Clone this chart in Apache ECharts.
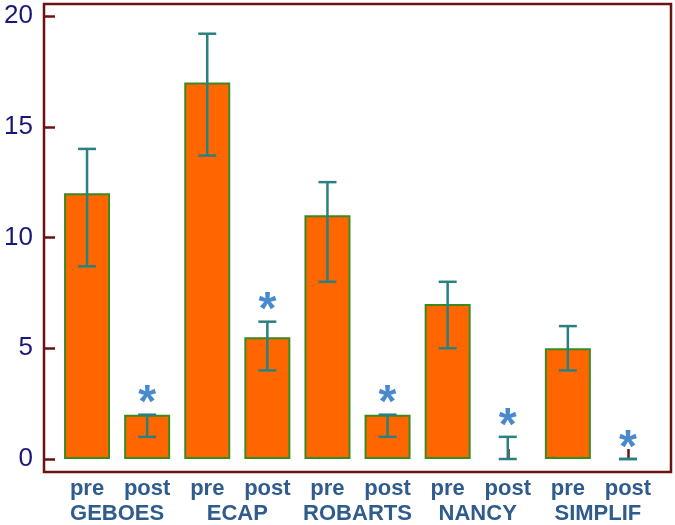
<!DOCTYPE html>
<html>
<head>
<meta charset="utf-8">
<script src="https://cdn.jsdelivr.net/npm/echarts@6/dist/echarts.min.js"></script>
<style>html,body{margin:0;padding:0;background:#fff}#c{width:675px;height:525px}</style>
</head>
<body>
<div id="c"></div>
<script>
const categories = ['pre','post','pre','post','pre','post','pre','post','pre','post'];
const groups = ['GEBOES','ECAP','ROBARTS','NANCY','SIMPLIF'];
const means = [12, 2, 17, 5.5, 11, 2, 7, 0, 5, 0];
const errLow = [8.7, 1, 13.7, 4, 8, 1, 5, 0, 4, 0];
const errHigh = [14, 2, 19.2, 6.2, 12.5, 2, 8, 1, 6, 0];
const significant = [false, true, false, true, false, true, false, true, false, true];
const yTicks = [0, 5, 10, 15, 20];

const FRAME = '#6B1212';
const FONT = 'Liberation Sans, Arial, sans-serif';
const chart = echarts.init(document.getElementById('c'), null, {renderer:'canvas'});
const barData = means.map(v => v === 0 ? {value:v, itemStyle:{borderWidth:0, color:'transparent'}} : v);
const errData = categories.map((c,i)=>[i, errLow[i], errHigh[i]]);
const starData = [];
significant.forEach((s,i)=>{ if(s) starData.push([i, errHigh[i]]); });

chart.setOption({
  animation:false,
  grid:[
    {left:57, right:17, top:16, bottom:65},
    {left:44, right:4, top:4, bottom:53, show:true, borderColor:FRAME, borderWidth:2.5, backgroundColor:'transparent', z:0}
  ],
  xAxis:[
    {type:'category', gridIndex:0, data:categories, offset:12,
     axisLine:{show:false},
     axisTick:{show:true, inside:true, length:10, alignWithLabel:true, lineStyle:{color:FRAME, width:2.5}},
     axisLabel:{interval:0, margin:7, fontSize:22, fontWeight:'bold', color:'#2F5C8C', fontFamily:FONT}},
    {type:'category', gridIndex:0, data:groups, offset:12, position:'bottom',
     axisLine:{show:false}, axisTick:{show:false},
     axisLabel:{interval:0, margin:32, fontSize:22, fontWeight:'bold', color:'#2F5C8C', fontFamily:FONT}},
    {type:'value', gridIndex:1, show:false, min:0, max:1}
  ],
  yAxis:[
    {type:'value', gridIndex:0, min:yTicks[0], max:yTicks[yTicks.length-1], interval:5, offset:13,
     splitLine:{show:false},
     axisLine:{show:false},
     axisTick:{show:true, inside:true, length:11, lineStyle:{color:FRAME, width:2.5}},
     axisLabel:{margin:11, fontSize:26, color:'#18187A', fontFamily:FONT}},
    {type:'value', gridIndex:1, show:false, min:0, max:1}
  ],
  series:[
    {type:'bar', xAxisIndex:0, yAxisIndex:0, data:barData, barWidth:46,
     itemStyle:{color:'#FF6600', borderColor:'#3A8A22', borderWidth:2}},
    {type:'custom', xAxisIndex:0, yAxisIndex:0, data:errData, z:5,
     renderItem:function(params, api){
       const x = api.value(0);
       const lo = api.coord([x, api.value(1)]);
       const hi = api.coord([x, api.value(2)]);
       const hw = 9;
       const st = {stroke:'#2A8080', lineWidth:2.5};
       return {type:'group', children:[
         {type:'line', shape:{x1:lo[0], y1:lo[1], x2:hi[0], y2:hi[1]}, style:st},
         {type:'line', shape:{x1:hi[0]-hw, y1:hi[1], x2:hi[0]+hw, y2:hi[1]}, style:st},
         {type:'line', shape:{x1:lo[0]-hw, y1:lo[1], x2:lo[0]+hw, y2:lo[1]}, style:st}
       ]};
     }},
    {type:'scatter', xAxisIndex:0, yAxisIndex:0, data:starData, symbolSize:2, itemStyle:{color:'rgba(0,0,0,0)'}, z:6,
     label:{show:true, formatter:'*', position:'inside', offset:[0,-10], fontSize:46, fontWeight:'bold', color:'#1A6DC0', fontFamily:FONT}}
  ]
});
</script>
</body>
</html>
